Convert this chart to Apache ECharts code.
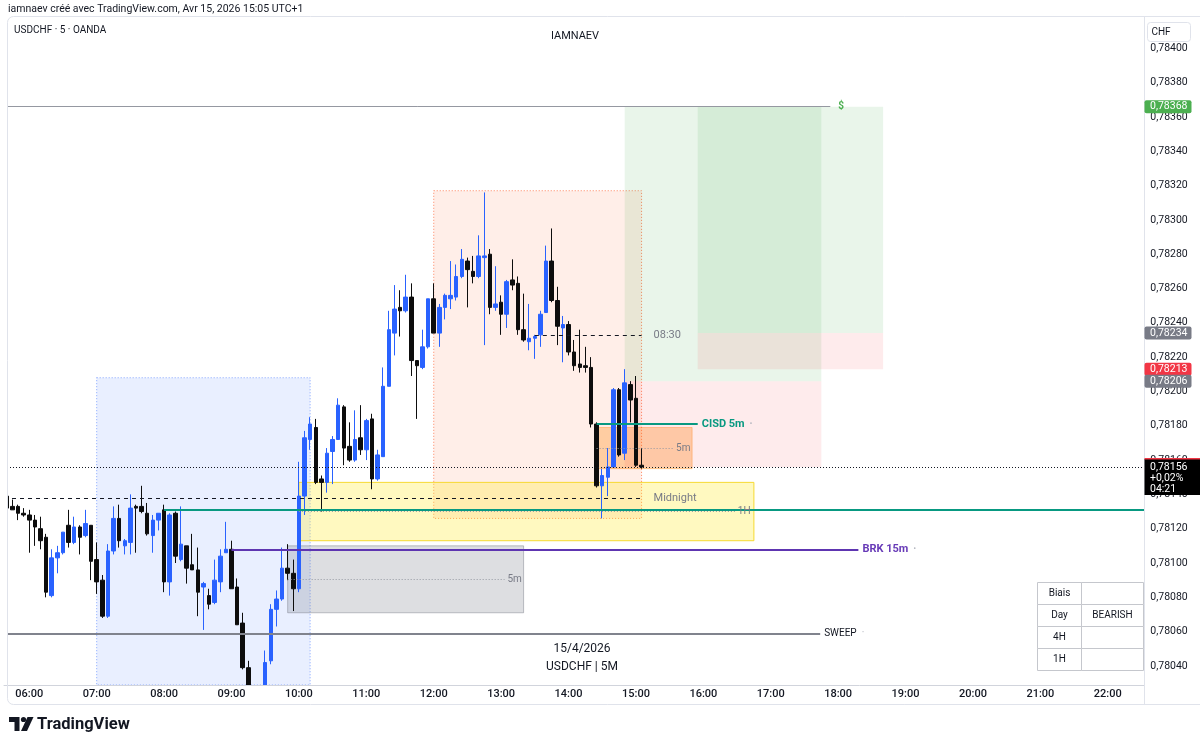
<!DOCTYPE html>
<html><head><meta charset="utf-8">
<script src="https://cdn.jsdelivr.net/npm/echarts@6/dist/echarts.min.js"></script>
<style>html,body{margin:0;padding:0;background:#fff;}#c{width:1200px;height:748px;}</style>
</head><body><div id="c"></div>
<script>
// ---------- DATA ----------
const firstSlot = '05:40';      // first 5-minute slot of the time axis
const slotCount = 203;          // number of 5-minute slots on the axis (05:40 .. 22:30)
const firstCandle = '05:40';    // candles are consecutive 5-minute bars from here
const opens = [0.78139,0.78133,0.78133,0.78129,0.78128,0.78125,0.78120,0.78115,0.78081,0.78103,
0.78106,0.78122,0.78112,0.78121,0.78116,0.78122,0.78102,0.78090,0.78069,0.78107,
0.78126,0.78110,0.78112,0.78133,0.78133,0.78129,0.78116,0.78125,0.78131,0.78089,
0.78129,0.78102,0.78110,0.78099,0.78096,0.78086,0.78081,0.78077,0.78089,0.78106,
0.78108,0.78086,0.78065,0.78039,0.78028,0.78018,0.78024,0.78043,0.78073,0.78079,
0.78097,0.78094,0.78085,0.78139,0.78172,0.78179,0.78149,0.78147,0.78165,0.78172,
0.78191,0.78168,0.78160,0.78173,0.78166,0.78184,0.78149,0.78162,0.78203,0.78234,
0.78249,0.78247,0.78255,0.78218,0.78214,0.78226,0.78254,0.78234,0.78249,0.78254,
0.78255,0.78267,0.78276,0.78270,0.78267,0.78278,0.78280,0.78249,0.78252,0.78245,
0.78265,0.78263,0.78236,0.78229,0.78231,0.78233,0.78246,0.78276,0.78253,0.78237,
0.78239,0.78223,0.78216,0.78215,0.78214,0.78181,0.78145,0.78150,0.78156,0.78201,
0.78164,0.78204,0.78196,0.78157];
const highs = [0.78145,0.78137,0.78134,0.78132,0.78131,0.78128,0.78127,0.78117,0.78108,0.78110,
0.78118,0.78131,0.78127,0.78122,0.78131,0.78122,0.78112,0.78093,0.78111,0.78133,
0.78134,0.78114,0.78140,0.78134,0.78145,0.78135,0.78128,0.78129,0.78134,0.78129,
0.78130,0.78133,0.78110,0.78117,0.78109,0.78089,0.78085,0.78102,0.78108,0.78124,
0.78113,0.78091,0.78071,0.78043,0.78028,0.78026,0.78049,0.78076,0.78084,0.78109,
0.78111,0.78102,0.78159,0.78177,0.78185,0.78184,0.78151,0.78167,0.78174,0.78196,
0.78192,0.78182,0.78189,0.78192,0.78184,0.78187,0.78166,0.78214,0.78247,0.78262,
0.78259,0.78268,0.78263,0.78218,0.78236,0.78254,0.78263,0.78251,0.78257,0.78276,
0.78274,0.78283,0.78278,0.78279,0.78291,0.78316,0.78283,0.78273,0.78256,0.78265,
0.78277,0.78267,0.78257,0.78251,0.78233,0.78247,0.78285,0.78295,0.78261,0.78244,
0.78241,0.78230,0.78236,0.78226,0.78220,0.78182,0.78155,0.78167,0.78202,0.78202,
0.78213,0.78206,0.78209,0.78167];
const lows = [0.78132,0.78131,0.78125,0.78127,0.78106,0.78110,0.78108,0.78080,0.78080,0.78094,
0.78105,0.78109,0.78111,0.78105,0.78115,0.78090,0.78082,0.78068,0.78068,0.78105,
0.78109,0.78105,0.78105,0.78106,0.78129,0.78116,0.78106,0.78119,0.78083,0.78081,
0.78100,0.78101,0.78088,0.78096,0.78069,0.78061,0.78073,0.78076,0.78083,0.78106,
0.78085,0.78064,0.78038,0.78024,0.78015,0.78012,0.78020,0.78041,0.78063,0.78078,
0.78090,0.78072,0.78083,0.78128,0.78166,0.78146,0.78130,0.78141,0.78146,0.78172,
0.78157,0.78159,0.78159,0.78163,0.78160,0.78143,0.78148,0.78162,0.78203,0.78221,
0.78232,0.78246,0.78209,0.78184,0.78213,0.78225,0.78234,0.78226,0.78242,0.78248,
0.78253,0.78266,0.78249,0.78263,0.78266,0.78227,0.78245,0.78247,0.78233,0.78237,
0.78259,0.78233,0.78229,0.78224,0.78219,0.78226,0.78246,0.78252,0.78227,0.78217,
0.78221,0.78212,0.78211,0.78211,0.78179,0.78144,0.78126,0.78139,0.78156,0.78162,
0.78160,0.78182,0.78156,0.78155];
const closes = [0.78132,0.78131,0.78129,0.78128,0.78125,0.78121,0.78113,0.78083,0.78103,0.78106,
0.78118,0.78112,0.78121,0.78115,0.78123,0.78101,0.78089,0.78069,0.78107,0.78126,
0.78113,0.78113,0.78132,0.78132,0.78130,0.78117,0.78125,0.78129,0.78089,0.78128,
0.78104,0.78111,0.78097,0.78096,0.78083,0.78088,0.78076,0.78090,0.78104,0.78108,
0.78085,0.78064,0.78039,0.78028,0.78018,0.78024,0.78042,0.78073,0.78079,0.78097,
0.78094,0.78085,0.78139,0.78173,0.78181,0.78147,0.78147,0.78164,0.78172,0.78192,
0.78167,0.78160,0.78172,0.78166,0.78183,0.78149,0.78163,0.78203,0.78236,0.78248,
0.78247,0.78255,0.78218,0.78215,0.78226,0.78254,0.78234,0.78249,0.78256,0.78256,
0.78267,0.78277,0.78271,0.78267,0.78279,0.78279,0.78249,0.78251,0.78245,0.78264,
0.78262,0.78236,0.78230,0.78231,0.78232,0.78245,0.78276,0.78253,0.78238,0.78239,
0.78223,0.78215,0.78214,0.78214,0.78181,0.78145,0.78151,0.78156,0.78201,0.78163,
0.78205,0.78195,0.78157,0.78156];

// price axis visible range and step
const priceMin = 0.780289, priceMax = 0.784165, priceStep = 0.0002;

// drawn zones: time span + price span
const zones = [
  {style:'session', from:'07:00', to:'10:10', top:0.78208, bottom:0.78000},
  {style:'range',   from:'12:00', to:'15:05', top:0.78317, bottom:0.78126},
  {style:'fvg1h',   from:'10:00', to:'16:45', top:0.78147, bottom:0.78113},
  {style:'fvgGray', from:'09:50', to:'13:20', top:0.78110, bottom:0.78071},
  {style:'fvgOrange', from:'14:25', to:'15:50', top:0.78179, bottom:0.78155},
  {style:'tp', from:'14:50', to:'17:45', top:0.78366, bottom:0.78206},
  {style:'sl', from:'14:50', to:'17:45', top:0.78206, bottom:0.78156},
  {style:'tp', from:'15:55', to:'18:40', top:0.78366, bottom:0.78234},
  {style:'sl', from:'15:55', to:'18:40', top:0.78234, bottom:0.78213}
];
// FVG midlines (zone index, end time, label)
const midlines = [
  {zone:2, to:'16:28', label:'1H'},
  {zone:3, to:'13:03', label:'5m'},
  {zone:4, to:'15:33', label:'5m'}
];
// horizontal levels (null = chart edge)
const levels = [
  {style:'target',   price:0.78366, from:null,    to:'17:53', label:'$'},
  {style:'dashed',   price:0.78138, from:null,    to:'15:05', label:'Midnight'},
  {style:'dashed',   price:0.78233, from:'13:30', to:'15:05', label:'08:30'},
  {style:'teal',     price:0.78131, from:'08:00', to:null,    label:''},
  {style:'cisd',     price:0.78181, from:'14:25', to:'15:55', label:'CISD 5m'},
  {style:'brk',      price:0.78108, from:'09:00', to:'18:18', label:'BRK 15m'},
  {style:'sweep',    price:0.78059, from:null,    to:'17:44', label:'SWEEP'},
  {style:'last',     price:0.78156, from:null,    to:null,    label:''}
];
// price scale badges
const badges = [
  {price:0.78368, at:0.78366, color:'#4caf50'},
  {price:0.78234, at:0.78234, color:'#787b86'},
  {price:0.78213, at:0.78213, color:'#f23645'},
  {price:0.78206, at:0.78206, color:'#787b86'}
];
const lastPrice = 0.78156, lastChange = '+0,02%', countdown = '04:21';
const biasRows = [['Biais',''],['Day','BEARISH'],['4H',''],['1H','']];

// ---------- HELPERS ----------
const FONT = 'Roboto, "Liberation Sans", sans-serif';
const toMin = t => { const p = t.split(':').map(Number); return p[0]*60 + p[1]; };
const pad = n => String(n).padStart(2,'0');
const slot0 = toMin(firstSlot);
const idx = t => (toMin(t) - slot0) / 5;
const xMin = -0.5, xMax = slotCount - 0.5;
const fmt = v => v.toFixed(5).replace('.', ',');
const categories = Array.from({length: slotCount}, (_, i) => {
  const m = slot0 + 5*i; return pad(Math.floor(m/60)) + ':' + pad(m % 60);
});
const candleOffset = idx(firstCandle);
const candleData = categories.map((c, i) => {
  const k = i - candleOffset;
  return (k >= 0 && k < opens.length) ? [opens[k], closes[k], lows[k], highs[k]] : '-';
});

const zoneStyle = {
  session:  {color:'rgba(41,98,255,0.10)', borderColor:'rgba(41,98,255,0.55)', borderWidth:1, borderType:[1,2]},
  range:    {color:'rgba(255,112,67,0.12)', borderColor:'rgba(255,112,67,0.85)', borderWidth:1, borderType:[1,2]},
  fvg1h:    {color:'rgba(255,235,59,0.32)', borderColor:'rgba(245,215,40,0.95)', borderWidth:1},
  fvgGray:  {color:'rgba(120,123,134,0.25)', borderColor:'rgba(120,123,134,0.45)', borderWidth:1},
  fvgOrange:{color:'rgba(255,128,0,0.30)', borderColor:'rgba(255,128,0,0.35)', borderWidth:1},
  tp:       {color:'rgba(76,175,80,0.12)'},
  sl:       {color:'rgba(242,54,69,0.10)'}
};
const levelStyle = {
  target: {line:{color:'#9598a1', width:1, type:'solid'}, label:{color:'#4caf50', fontWeight:'bold', fontSize:10, distance:8}},
  dashed: {line:{color:'#131722', width:1, type:[4,4]}, label:{color:'#787b86', fontSize:11, distance:12}},
  teal:   {line:{color:'#089981', width:2, type:'solid'}, label:{}},
  cisd:   {line:{color:'#089981', width:2, type:'solid'}, label:{color:'#089981', fontWeight:'bold', fontSize:11, distance:4}},
  brk:    {line:{color:'#5e35b1', width:2, type:'solid'}, label:{color:'#673ab7', fontWeight:'bold', fontSize:11, distance:4}},
  sweep:  {line:{color:'#80838d', width:2, type:'solid'}, label:{color:'#131722', fontSize:10, distance:4}},
  last:   {line:{color:'#131722', width:1, type:[1,2]}, label:{}}
};
const dotted = {cisd:true, brk:true, sweep:true, target:false};

const zoneMarks = zones.map(z => [
  {coord:[idx(z.from), z.top], itemStyle: zoneStyle[z.style]},
  {coord:[idx(z.to), z.bottom]}
]);
const midMarks = midlines.map(m => {
  const z = zones[m.zone];
  const p = (z.top + z.bottom) / 2;
  return [
    {coord:[idx(z.from), p], lineStyle:{color:'#9598a1', width:1, type:[1,2]},
     label:{show:true, position:'end', distance:3, formatter:m.label, color:'#787b86', fontSize:10, fontFamily:FONT}},
    {coord:[idx(m.to), p]}
  ];
});
const levelMarks = levels.map(l => {
  const s = levelStyle[l.style];
  const lab = l.label ? Object.assign({show:true, position:'end', fontFamily:FONT,
      formatter: dotted[l.style] ? '{t|' + l.label + '}{d|  ·}' : l.label,
      rich: {t:{color:s.label.color, fontWeight:s.label.fontWeight||'normal', fontSize:s.label.fontSize, fontFamily:FONT},
             d:{color:'#b2b5be', fontSize:10, fontFamily:FONT}}}, s.label) : {show:false};
  return [
    {coord:[l.from === null ? xMin : idx(l.from), l.price], lineStyle:s.line, label:lab},
    {coord:[l.to === null ? xMax : idx(l.to), l.price]}
  ];
});

// ---------- CHART ----------
const chart = echarts.init(document.getElementById('c'));
const baseGraphic = [];
function txt(text, x, y, size, color, align, weight) {
  return {type:'text', z:100, silent:true, style:{text, x, y, fill:color||'#131722', align:align||'left', verticalAlign:'middle',
    font:(weight||'normal') + ' ' + size + 'px ' + FONT}};
}
baseGraphic.push({type:'rect', z:40, silent:true, shape:{x:0, y:16, width:7.5, height:690}, style:{fill:'#fff'}});
baseGraphic.push({type:'rect', z:40, silent:true, shape:{x:0, y:685.5, width:1144, height:19}, style:{fill:'#fff'}});
baseGraphic.push({type:'rect', z:95, silent:true, shape:{x:7.5, y:16.5, width:1200, height:688, r:6}, style:{fill:'none', stroke:'#e0e3eb', lineWidth:1}});
baseGraphic.push({type:'line', z:95, silent:true, shape:{x1:1144.5, y1:16.5, x2:1144.5, y2:704.5}, style:{stroke:'#e0e3eb', lineWidth:1}});
baseGraphic.push(txt('iamnaev créé avec TradingView.com, Avr 15, 2026 15:05 UTC+1', 8, 9, 10.5, '#131722'));
baseGraphic.push(txt('USDCHF · 5 · OANDA', 14, 30, 10, '#131722'));
baseGraphic.push(txt('IAMNAEV', 575, 36, 11, '#131722', 'center'));
baseGraphic.push(txt('15/4/2026', 582, 649, 12, '#131722', 'center'));
baseGraphic.push(txt('USDCHF | 5M', 582, 667, 12, '#131722', 'center'));
// CHF box
baseGraphic.push({type:'rect', z:100, silent:true, shape:{x:1147.5, y:22.5, width:43, height:19, r:3}, style:{fill:'#fff', stroke:'#e0e3eb'}});
baseGraphic.push(txt('CHF', 1161, 32, 10, '#131722', 'center'));
// bias table
const tX = [1037.5, 1081.5, 1143.5], tY0 = 582.5, rowH = 22;
biasRows.forEach((r, i) => {
  const y = tY0 + i*rowH;
  baseGraphic.push({type:'rect', z:100, silent:true, shape:{x:tX[0], y, width:tX[1]-tX[0], height:rowH}, style:{fill:'#fff', stroke:'#c5c7cd'}});
  baseGraphic.push({type:'rect', z:100, silent:true, shape:{x:tX[1], y, width:tX[2]-tX[1], height:rowH}, style:{fill:'#fff', stroke:'#c5c7cd'}});
  baseGraphic.push(txt(r[0], (tX[0]+tX[1])/2, y + rowH/2, 10, '#131722', 'center'));
  if (r[1]) baseGraphic.push(txt(r[1], (tX[1]+tX[2])/2, y + rowH/2, 10, '#131722', 'center'));
});
// TradingView logo
baseGraphic.push({type:'polygon', z:100, silent:true, shape:{points:[[9,717],[19.5,717],[19.5,731],[14.5,731],[14.5,722],[9,722]]}, style:{fill:'#131722'}});
baseGraphic.push({type:'circle', z:100, silent:true, shape:{cx:23.5, cy:719.5, r:2.6}, style:{fill:'#131722'}});
baseGraphic.push({type:'polygon', z:100, silent:true, shape:{points:[[27.5,717],[33.5,717],[27,731],[21,731]]}, style:{fill:'#131722'}});
baseGraphic.push(txt('TradingView', 37, 724.5, 16.5, '#131722', 'left', 'bold'));

const option = {
  animation: false,
  backgroundColor: '#ffffff',
  grid: {left: 4, right: 55.7, top: 20, bottom: 63, outerBoundsMode: 'none', containLabel: false},
  xAxis: [
    {type:'category', data: categories, boundaryGap: true, z: 50,
     axisLine:{show:true, lineStyle:{color:'#d1d4dc'}}, axisTick:{show:false}, splitLine:{show:false},
     axisLabel:{interval:(i, v) => v.endsWith(':00'), color:'#131722', fontSize:11, fontWeight:500, fontFamily:FONT, margin:4}},
    {type:'value', min:xMin, max:xMax, show:false}
  ],
  yAxis: [{type:'value', position:'right', min:priceMin, max:priceMax, minInterval:priceStep, maxInterval:priceStep, scale:true,
    axisLine:{show:false}, axisTick:{show:false}, splitLine:{show:false},
    axisLabel:{formatter: v => fmt(v), color:'#131722', fontSize:10.5, fontFamily:FONT, margin:6, showMinLabel:false, showMaxLabel:false}}],
  series: [
    {type:'line', name:'zones', xAxisIndex:1, yAxisIndex:0, data:[], z:1, silent:true,
     markArea:{silent:true, data: zoneMarks}},
    {type:'candlestick', name:'USDCHF', xAxisIndex:0, yAxisIndex:0, data: candleData, z:3, barWidth:4, clip:true,
     itemStyle:{color:'#2962ff', color0:'#0d0d0d', borderColor:'#2962ff', borderColor0:'#0d0d0d', borderWidth:1}},
    {type:'line', name:'mids', xAxisIndex:1, yAxisIndex:0, data:[], z:4, silent:true,
     markLine:{silent:true, symbol:['none','none'], data: midMarks}},
    {type:'line', name:'levels', xAxisIndex:1, yAxisIndex:0, data:[], z:5, silent:true,
     markLine:{silent:true, symbol:['none','none'], data: levelMarks}}
  ],
  graphic: baseGraphic
};
chart.setOption(option);

// price-scale badges placed through the y scale
const g = baseGraphic.slice();
badges.forEach(b => {
  const y = chart.convertToPixel({yAxisIndex:0}, b.at);
  g.push({type:'rect', z:110, silent:true, shape:{x:1144.5, y:y-6.5, width:47, height:13, r:2}, style:{fill:b.color}});
  g.push(Object.assign(txt(fmt(b.price), 1150, y, 10.5, '#fff'), {z:112}));
});
const yLast = chart.convertToPixel({yAxisIndex:0}, lastPrice);
g.push({type:'rect', z:110, silent:true, shape:{x:1144.5, y:yLast-8, width:56, height:36}, style:{fill:'#000'}});
g.push({type:'rect', z:111, silent:true, shape:{x:1144.5, y:yLast-9, width:56, height:1.6}, style:{fill:'#f23645'}});
g.push(Object.assign(txt(fmt(lastPrice), 1150, yLast, 10.5, '#fff'), {z:112}));
g.push(Object.assign(txt(lastChange, 1150, yLast+11, 10.5, '#fff'), {z:112}));
g.push(Object.assign(txt(countdown, 1150, yLast+22, 10.5, '#fff'), {z:112}));
chart.setOption({graphic: g}, {replaceMerge:['graphic']});
</script>
</body></html>
